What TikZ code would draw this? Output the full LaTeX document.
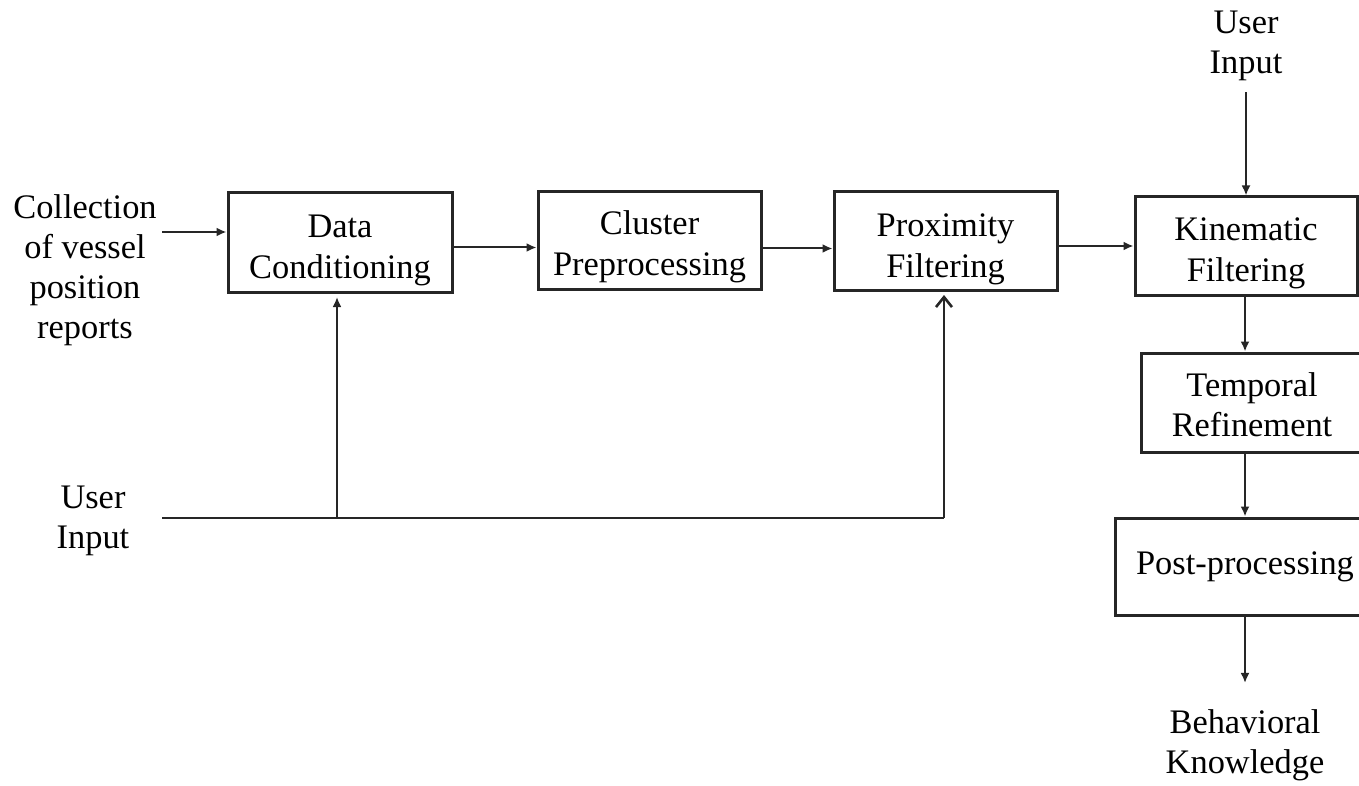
\documentclass[tikz,border=0pt]{standalone}
\usepackage{fontspec}
\setmainfont{Liberation Serif}
\usetikzlibrary{arrows.meta,calc}
\newcommand\tup[1]{\rule{0pt}{#1}}
\tikzset{
  blk/.style={draw=black!85, line width=1.5pt, rectangle, align=center, inner sep=0pt,
              font=\fontsize{17.2}{20.3}\selectfont},
  lbl/.style={align=center, inner sep=0pt, font=\fontsize{17.2}{20}\selectfont},
  arr/.style={draw=black!85, line width=1pt, -{Latex[length=5pt,width=4.5pt]}},
  arrb/.style={draw=black!85, line width=1pt, -{Straight Barb[length=5pt,width=8pt,line width=1.3pt]}},
  ln/.style={draw=black!85, line width=1.3pt}
}
\begin{document}
\begin{tikzpicture}[x=0.5pt,y=-0.5pt]
\clip (0,0) rectangle (1359,786);
\useasboundingbox (0,0) rectangle (1359,786);
% boxes
\node[blk, minimum width=112pt, minimum height=49.5pt] (dc) at (340,242.5) {\tup{19pt}Data\\Conditioning};
\node[blk, minimum width=111.5pt, minimum height=48.5pt] (cp) at (649.5,240.5) {\tup{18.5pt}Cluster\\Preprocessing};
\node[blk, minimum width=111.5pt, minimum height=49pt] (pf) at (945.5,241) {\tup{19.5pt}Proximity\\Filtering};
\node[blk, minimum width=111pt, minimum height=49pt] (kf) at (1246,246) {\tup{19pt}Kinematic\\Filtering};
\node[blk, minimum width=111pt, minimum height=49.5pt] (tr) at (1252,402.5) {\tup{14pt}Temporal\\Refinement};
\node[blk, minimum width=130pt, minimum height=48.5pt] (pp) at (1245,566.5) {Post-processing};
% labels
\node[lbl] (coll) at (85,270) {Collection\\of vessel\\position\\reports};
\node[lbl] (ui1) at (93,521) {User\\Input};
\node[lbl] (ui2) at (1246,46) {User\\Input};
\node[lbl] (bk) at (1245,745) {Behavioral\\Knowledge};
% connectors
\coordinate (cin) at (162,232);
\draw[arr] (cin) -- (cin -| dc.west);
\draw[arr] ($(dc.east)+(0,-2.5pt)$) -- ($(dc.east -| cp.west)+(0,-2.5pt)$);
\draw[arr] ($(cp.east)+(0,-4pt)$) -- ($(cp.east -| pf.west)+(0,-4pt)$);
\draw[arr] ($(pf.east)+(0,-2.5pt)$) -- ($(pf.east -| kf.west)+(0,-2.5pt)$);
\draw[arr] ([yshift=-5.5pt]ui2.south) -- (kf.north);
\draw[arr] (kf.south -| 1245,0) -- (tr.north -| 1245,0);
\draw[arr] (tr.south -| 1245,0) -- (pp.north -| 1245,0);
\draw[arr] (pp.south) -- ([yshift=13pt]bk.north);
% bottom user input
\coordinate (uin) at (162,518);
\coordinate (pfin) at (944,295);
\coordinate (dcin) at (337,297);
\draw[ln] (uin) -- (uin -| pfin);
\draw[arrb] (uin -| pfin) -- (pfin);
\draw[arr] (uin -| dcin) -- (dcin);
\end{tikzpicture}
\end{document}
